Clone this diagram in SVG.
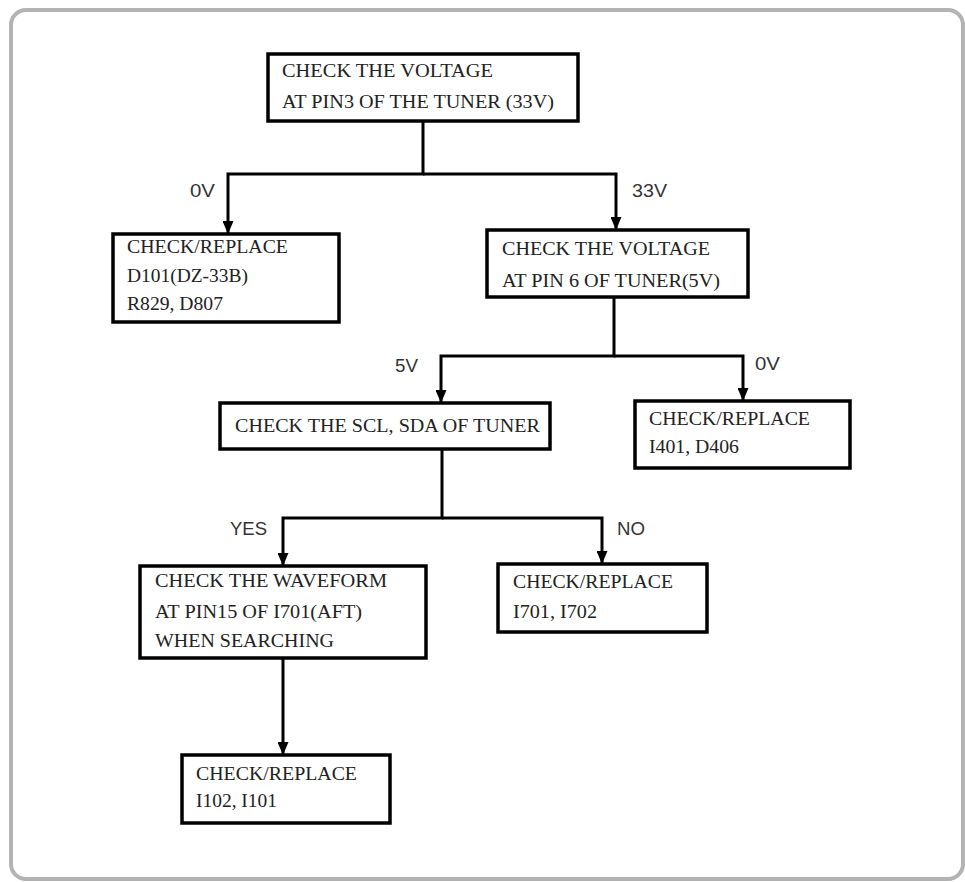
<svg xmlns="http://www.w3.org/2000/svg" width="965" height="882" viewBox="0 0 965 882">
<style>
.frame{fill:#fff;stroke:#b3b3b3;stroke-width:4}
.box{fill:#fff;stroke:#000;stroke-width:3.5}
.t{font-family:"Liberation Serif","Times New Roman",serif;font-size:18px;fill:#222}
.lbl{font-family:"Liberation Sans",Arial,sans-serif;font-size:18px;fill:#333}
.c{fill:none;stroke:#000;stroke-width:3}
</style>
<defs>
<marker id="ah" markerUnits="userSpaceOnUse" markerWidth="13" markerHeight="11" viewBox="0 0 13 11" refX="13" refY="5.5" orient="auto">
<path d="M0,0 L13,5.5 L0,11 z" fill="#000"/>
</marker>
</defs>
<rect width="965" height="882" fill="#fff"/>
<rect class="frame" x="11" y="10" width="952" height="869" rx="15"/>
<g id="connectors">
<path class="c" d="M423,121 V174 H228 V234" marker-end="url(#ah)"/>
<path class="c" d="M423,174 H616 V230" marker-end="url(#ah)"/>
<path class="c" d="M614,298 V356 H441 V403" marker-end="url(#ah)"/>
<path class="c" d="M614,356 H743 V401" marker-end="url(#ah)"/>
<path class="c" d="M442,449 V518 H283 V566" marker-end="url(#ah)"/>
<path class="c" d="M442,518 H602 V564" marker-end="url(#ah)"/>
<path class="c" d="M283,658 V755" marker-end="url(#ah)"/>
<text class="lbl" x="190" y="197" textLength="25" lengthAdjust="spacingAndGlyphs">0V</text>
<text class="lbl" x="632" y="197" textLength="35" lengthAdjust="spacingAndGlyphs">33V</text>
<text class="lbl" x="395" y="372" textLength="23" lengthAdjust="spacingAndGlyphs">5V</text>
<text class="lbl" x="755" y="370" textLength="25" lengthAdjust="spacingAndGlyphs">0V</text>
<text class="lbl" x="230" y="535" textLength="37" lengthAdjust="spacingAndGlyphs">YES</text>
<text class="lbl" x="617" y="535" textLength="28" lengthAdjust="spacingAndGlyphs">NO</text>
</g>
<g id="n1">
<rect class="box" x="268" y="54" width="310" height="67"/>
<text class="t" x="282" y="77" textLength="211" lengthAdjust="spacingAndGlyphs">CHECK THE VOLTAGE</text>
<text class="t" x="282" y="108" textLength="272" lengthAdjust="spacingAndGlyphs">AT PIN3 OF THE TUNER (33V)</text>
</g>
<g id="n2">
<rect class="box" x="113" y="234" width="226" height="88"/>
<text class="t" x="127" y="253" textLength="161" lengthAdjust="spacingAndGlyphs">CHECK/REPLACE</text>
<text class="t" x="127" y="282" textLength="121" lengthAdjust="spacingAndGlyphs">D101(DZ-33B)</text>
<text class="t" x="127" y="310" textLength="96" lengthAdjust="spacingAndGlyphs">R829, D807</text>
</g>
<g id="n3">
<rect class="box" x="487" y="230" width="261" height="67"/>
<text class="t" x="502" y="255" textLength="208" lengthAdjust="spacingAndGlyphs">CHECK THE VOLTAGE</text>
<text class="t" x="502" y="287" textLength="218" lengthAdjust="spacingAndGlyphs">AT PIN 6 OF TUNER(5V)</text>
</g>
<g id="n4">
<rect class="box" x="220" y="403" width="330" height="46"/>
<text class="t" x="235" y="432" textLength="305" lengthAdjust="spacingAndGlyphs">CHECK THE SCL, SDA OF TUNER</text>
</g>
<g id="n5">
<rect class="box" x="635" y="401" width="215" height="67"/>
<text class="t" x="649" y="425" textLength="161" lengthAdjust="spacingAndGlyphs">CHECK/REPLACE</text>
<text class="t" x="649" y="453" textLength="90" lengthAdjust="spacingAndGlyphs">I401, D406</text>
</g>
<g id="n6">
<rect class="box" x="140" y="566" width="286" height="92"/>
<text class="t" x="155" y="587" textLength="232" lengthAdjust="spacingAndGlyphs">CHECK THE WAVEFORM</text>
<text class="t" x="155" y="618" textLength="207" lengthAdjust="spacingAndGlyphs">AT PIN15 OF I701(AFT)</text>
<text class="t" x="155" y="647" textLength="179" lengthAdjust="spacingAndGlyphs">WHEN SEARCHING</text>
</g>
<g id="n7">
<rect class="box" x="498" y="564" width="209" height="68"/>
<text class="t" x="513" y="588" textLength="160" lengthAdjust="spacingAndGlyphs">CHECK/REPLACE</text>
<text class="t" x="513" y="618" textLength="84" lengthAdjust="spacingAndGlyphs">I701, I702</text>
</g>
<g id="n8">
<rect class="box" x="182" y="755" width="208" height="68"/>
<text class="t" x="196" y="780" textLength="161" lengthAdjust="spacingAndGlyphs">CHECK/REPLACE</text>
<text class="t" x="196" y="807" textLength="81" lengthAdjust="spacingAndGlyphs">I102, I101</text>
</g>
</svg>
